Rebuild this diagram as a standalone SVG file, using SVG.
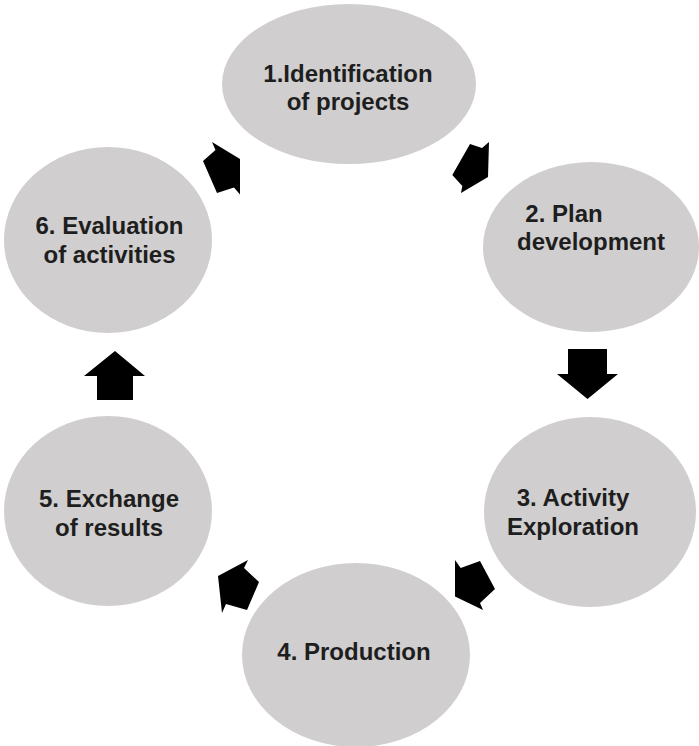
<svg xmlns="http://www.w3.org/2000/svg" width="699" height="746" viewBox="0 0 699 746">
  <style>
    .stage { fill: #d0cece; }
    .label { font-family: "Liberation Sans", Arial, sans-serif; font-weight: bold; font-size: 24px; fill: #1e1e1e; text-anchor: middle; }
    .flow { fill: #000000; }
  </style>
  <rect width="699" height="746" fill="#ffffff"/>

  <!-- stages of the cycle -->
  <g id="stage1">
    <ellipse class="stage" cx="349" cy="84" rx="127" ry="80"/>
    <text class="label" x="348" y="82">1.Identification</text>
    <text class="label" x="348" y="110">of projects</text>
  </g>
  <g id="stage2">
    <ellipse class="stage" cx="591" cy="247" rx="108" ry="85"/>
    <text class="label" x="564" y="222">2. Plan</text>
    <text class="label" x="591" y="250">development</text>
  </g>
  <g id="stage3">
    <ellipse class="stage" cx="590" cy="512" rx="106" ry="95"/>
    <text class="label" x="573" y="506">3. Activity</text>
    <text class="label" x="573" y="535">Exploration</text>
  </g>
  <g id="stage4">
    <ellipse class="stage" cx="356" cy="655" rx="114" ry="92"/>
    <text class="label" x="354" y="660">4. Production</text>
  </g>
  <g id="stage5">
    <ellipse class="stage" cx="108" cy="511" rx="104" ry="95"/>
    <text class="label" x="109" y="507">5. Exchange</text>
    <text class="label" x="109" y="536">of results</text>
  </g>
  <g id="stage6">
    <ellipse class="stage" cx="108" cy="240" rx="104" ry="93"/>
    <text class="label" x="109.5" y="234">6. Evaluation</text>
    <text class="label" x="109.5" y="263">of activities</text>
  </g>

  <!-- block arrows between stages -->
  <g id="connectors">
    <polygon class="flow" points="212,142 240,159 240,194.5 234,187.5 217,193 203,161 215.5,150"/>
    <polygon class="flow" points="489,142 482,148 470,144 452.3,175 462.3,186 461,193 488,177"/>
    <polygon class="flow" points="568,349 607,349 607,374 618,374 587.5,399 557,374 568,374"/>
    <polygon class="flow" points="455,560 460.7,568 480,561 495,589 480,603 483,610 455,596.5"/>
    <polygon class="flow" points="248,560 244,568 259,582 247,610 226,604 222,613 218,576"/>
    <polygon class="flow" points="97,400 133,400 133,376 145,376 115,351 84,376 97,376"/>
  </g>
</svg>
